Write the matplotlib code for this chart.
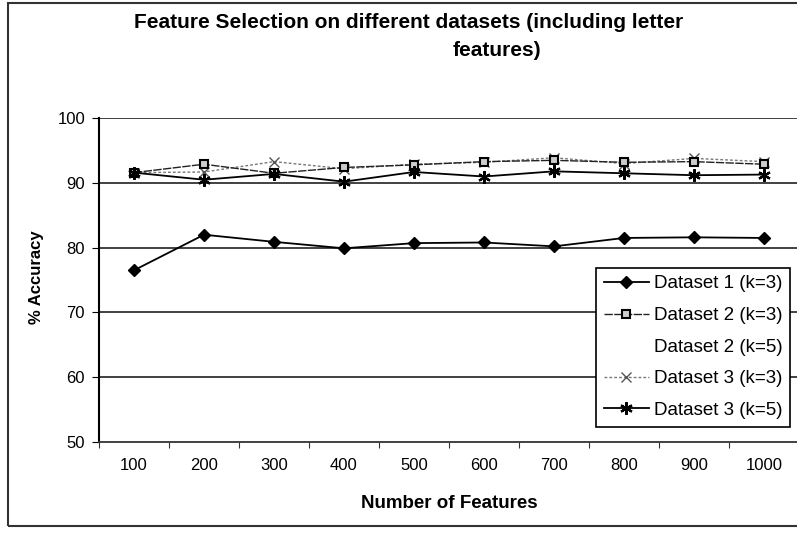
import numpy as np
import matplotlib
matplotlib.use("Agg")
import matplotlib.pyplot as plt
from matplotlib.lines import Line2D
from matplotlib.patches import Rectangle

plt.rcParams['font.family'] = ['Liberation Sans', 'DejaVu Sans']

features = [100, 200, 300, 400, 500, 600, 700, 800, 900, 1000]
ds1_k3 = [76.5, 82.0, 80.9, 79.9, 80.7, 80.8, 80.2, 81.5, 81.6, 81.5]
ds2_k3 = [91.6, 92.9, 91.5, 92.4, 92.8, 93.3, 93.5, 93.2, 93.3, 92.9]
ds3_k3 = [91.6, 91.7, 93.3, 92.2, 92.9, 93.2, 93.9, 93.0, 93.8, 93.3]
ds3_k5 = [91.6, 90.5, 91.4, 90.2, 91.7, 91.0, 91.8, 91.5, 91.2, 91.3]
yticks = [50, 60, 70, 80, 90, 100]

W, H = 797, 536
fig = plt.figure(figsize=(W / 100, H / 100), dpi=100)

# axes box in pixel terms
left, right, top, bottom = 99, 799, 118.3, 441.7
ax = fig.add_axes([left / W, 1 - bottom / H, (right - left) / W, (bottom - top) / H])

x = np.arange(1, len(features) + 1)

ax.plot(x, ds1_k3, color='black', lw=1.3, marker='D', ms=6, mfc='black',
        label='Dataset 1 (k=3)', zorder=4)
ax.plot(x, ds2_k3, color='#222222', lw=1.0, ls=(0, (6, 1)), marker='s', ms=6,
        mfc='#cccccc', mec='black', mew=1.5, label='Dataset 2 (k=3)', zorder=4)
ax.plot(x, ds3_k3, color='#777777', lw=1.0, ls=(0, (2, 1.5)), marker='x', ms=7,
        mec='#555555', mew=1.0, label='Dataset 3 (k=3)', zorder=3)
ax.plot(x, ds3_k5, color='black', lw=1.3, marker=(6, 2, 0), ms=9, mew=1.6,
        label='Dataset 3 (k=5)', zorder=4)

ax.set_xlim(0.5, len(features) + 0.5)
ax.set_ylim(50, 100)
ax.set_yticks(yticks)
ax.set_yticklabels([str(v) for v in yticks], fontsize=12)
for v in yticks[1:]:
    ax.axhline(v, color='#333333', lw=1.3, zorder=1)

ax.set_xticks(np.arange(0.5, len(features) + 1, 1.0))
ax.set_xticklabels([])
ax.set_xticks(x, minor=True)
ax.set_xticklabels([str(f) for f in features], minor=True, fontsize=12)
ax.tick_params(axis='x', which='major', length=4, direction='out', color='#333333')
ax.tick_params(axis='x', which='minor', length=0, pad=12)
ax.tick_params(axis='y', length=5, direction='out', pad=5)

for s in ['top', 'right']:
    ax.spines[s].set_visible(False)
ax.spines['left'].set_color('black')
ax.spines['left'].set_linewidth(1.5)
ax.spines['bottom'].set_color('#333333')
ax.spines['bottom'].set_linewidth(1.3)

# legend
handles = [
    Line2D([], [], color='black', lw=1.3, marker='D', ms=6),
    Line2D([], [], color='#222222', lw=1.0, ls=(0, (6, 1)), marker='s', ms=6,
           mfc='#cccccc', mec='black', mew=1.5),
    Line2D([], [], ls='none', marker='none'),
    Line2D([], [], color='#777777', lw=1.0, ls=(0, (2, 1.5)), marker='x', ms=7,
           mec='#555555'),
    Line2D([], [], color='black', lw=1.3, marker=(6, 2, 0), ms=9, mew=1.6),
]
labels = ['Dataset 1 (k=3)', 'Dataset 2 (k=3)', 'Dataset 2 (k=5)',
          'Dataset 3 (k=3)', 'Dataset 3 (k=5)']
leg = fig.legend(handles, labels, loc='upper right',
                 bbox_to_anchor=(790 / W, 1 - 267.5 / H), bbox_transform=fig.transFigure,
                 fontsize=13.5, frameon=True, fancybox=False, framealpha=1,
                 edgecolor='black', handlelength=2.4, handletextpad=0.25,
                 labelspacing=0.77, borderpad=0.42, borderaxespad=0)
leg.get_frame().set_linewidth(1.2)

# titles and labels
fig.text(409 / W, 1 - 23 / H, 'Feature Selection on different datasets (including letter',
         ha='center', va='center', fontsize=15, fontweight='bold')
fig.text(497 / W, 1 - 50 / H, 'features)', ha='center', va='center',
         fontsize=15, fontweight='bold')
fig.text(449 / W, 1 - 503 / H, 'Number of Features', ha='center', va='center',
         fontsize=13.5, fontweight='bold')
fig.text(36 / W, 1 - 277 / H, '% Accuracy', ha='center', va='center',
         rotation=90, fontsize=12, fontweight='bold')

# outer chart border
fig.patches.append(Rectangle((8 / W, 1 - 526 / H), 1.0, (526 - 2.5) / H,
                             transform=fig.transFigure, fill=False,
                             edgecolor='#333333', lw=1.5))

fig.savefig('out.png', dpi=100)
